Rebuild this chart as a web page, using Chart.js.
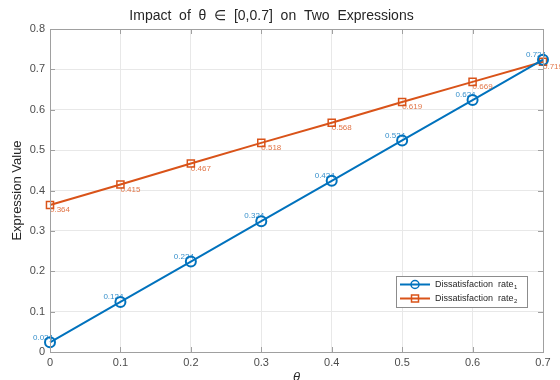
<!DOCTYPE html>
<html><head><meta charset="utf-8">
<script src="https://cdn.jsdelivr.net/npm/chart.js@4/dist/chart.umd.min.js"></script>
<style>html,body{margin:0;padding:0;background:#fff}#wrap{width:560px;height:380px}</style>
</head><body><div id="wrap"><canvas id="c" width="560" height="380"></canvas></div>
<script>
const thetas = [0, 0.1, 0.2, 0.3, 0.4, 0.5, 0.6, 0.7];
const rate1 = [0.024, 0.124, 0.224, 0.324, 0.424, 0.524, 0.624, 0.724];
const rate2 = [0.364, 0.415, 0.467, 0.518, 0.568, 0.619, 0.669, 0.719];
const seriesNames = ['Dissatisfaction  rate', 'Dissatisfaction  rate'];
const seriesSubs = ['1', '2'];
const titleText = 'Impact  of  \u03B8  \u2208  [0,0.7]  on  Two  Expressions';
const xTitle = '\u03B8';
const yTitle = 'Expression Value';
const BLUE = '#0072BD', ORANGE = '#D95319';
const FONT = "'Liberation Sans', Arial, sans-serif";

const labelPlugin = {
  id: 'labels',
  afterDatasetsDraw(chart) {
    const ctx = chart.ctx;
    ctx.save();
    ctx.font = '8px ' + FONT;
    chart.data.datasets.forEach((ds, di) => {
      const meta = chart.getDatasetMeta(di);
      meta.data.forEach((pt, i) => {
        const txt = ds.data[i].y.toFixed(3);
        if (di === 0) {
          ctx.fillStyle = 'rgba(0,114,189,0.8)';
          ctx.textAlign = 'right'; ctx.textBaseline = 'bottom';
          ctx.fillText(txt, pt.x + 3, pt.y - 1);
        } else {
          ctx.fillStyle = 'rgba(217,83,25,0.8)';
          ctx.textAlign = 'left'; ctx.textBaseline = 'top';
          ctx.fillText(txt, pt.x, pt.y + 1);
        }
      });
    });
    ctx.restore();
  }
};

const framePlugin = {
  id: 'frame',
  afterDraw(chart) {
    const ctx = chart.ctx, a = chart.chartArea;
    const xs = chart.scales.x, ys = chart.scales.y;
    ctx.save();
    ctx.strokeStyle = '#a0a0a0'; ctx.lineWidth = 1;
    ctx.beginPath();
    xs.ticks.forEach(t => {
      const px = Math.round(xs.getPixelForValue(t.value)) + 0.5;
      ctx.moveTo(px, a.bottom); ctx.lineTo(px, a.bottom - 5);
      ctx.moveTo(px, a.top); ctx.lineTo(px, a.top + 5);
    });
    ys.ticks.forEach(t => {
      const py = Math.round(ys.getPixelForValue(t.value)) + 0.5;
      ctx.moveTo(a.left, py); ctx.lineTo(a.left + 5, py);
      ctx.moveTo(a.right, py); ctx.lineTo(a.right - 5, py);
    });
    ctx.stroke();
    ctx.strokeRect(Math.round(a.left) + 0.5, Math.round(a.top) + 0.5, Math.round(a.right - a.left), Math.round(a.bottom - a.top));
    // legend
    const lx = 396, ly = 276, lw = 131, lh = 31;
    ctx.fillStyle = '#fff';
    ctx.fillRect(lx, ly, lw, lh);
    ctx.strokeStyle = '#8c8c8c';
    ctx.strokeRect(lx + 0.5, ly + 0.5, lw, lh);
    const rows = [ly + 8.5, ly + 22.5];
    chart.data.datasets.forEach((ds, di) => {
      const y = rows[di];
      ctx.strokeStyle = ds.borderColor; ctx.lineWidth = 2;
      ctx.beginPath(); ctx.moveTo(lx + 4, y); ctx.lineTo(lx + 34, y); ctx.stroke();
      const mx = lx + 19;
      ctx.lineWidth = 1.5;
      if (di === 0) { ctx.beginPath(); ctx.arc(mx, y, 4, 0, Math.PI * 2); ctx.stroke(); }
      else { ctx.strokeRect(mx - 3.5, y - 3.5, 7, 7); }
      ctx.fillStyle = '#262626';
      ctx.font = '9px ' + FONT; ctx.textAlign = 'left'; ctx.textBaseline = 'middle';
      ctx.fillText(seriesNames[di], lx + 39, y);
      const w = ctx.measureText(seriesNames[di]).width;
      ctx.font = '6px ' + FONT;
      ctx.fillText(seriesSubs[di], lx + 39 + w + 0.5, y + 2.5);
    });
    ctx.restore();
  }
};

new Chart(document.getElementById('c'), {
  type: 'line',
  data: {
    datasets: [
      { label: seriesNames[0] + seriesSubs[0], data: thetas.map((t, i) => ({x: t, y: rate1[i]})),
        borderColor: BLUE, backgroundColor: 'rgba(0,0,0,0)', borderWidth: 2, pointStyle: 'circle',
        pointRadius: 5, pointBorderWidth: 2, pointBackgroundColor: 'rgba(0,0,0,0)', pointBorderColor: BLUE, clip: false, tension: 0 },
      { label: seriesNames[1] + seriesSubs[1], data: thetas.map((t, i) => ({x: t, y: rate2[i]})),
        borderColor: ORANGE, backgroundColor: 'rgba(0,0,0,0)', borderWidth: 2, pointStyle: 'rect',
        pointRadius: 5, pointBorderWidth: 1.5, pointBackgroundColor: 'rgba(0,0,0,0)', pointBorderColor: ORANGE, clip: false, tension: 0 }
    ]
  },
  options: {
    responsive: false, animation: false,
    layout: { padding: { left: 0, right: 17, top: 0, bottom: 0 } },
    plugins: {
      legend: { display: false },
      tooltip: { enabled: false },
      title: { display: true, text: titleText, color: '#262626',
        font: { family: FONT, size: 14, weight: 'normal' }, padding: { top: 8, bottom: 4.2 } }
    },
    scales: {
      x: { type: 'linear', min: 0, max: 0.7,
        afterFit(s) { s.height = 28; },
        ticks: { stepSize: 0.1, color: '#4d4d4d', font: { family: FONT, size: 11 }, padding: 4, maxRotation: 0 },
        grid: { color: '#e8e8e8', drawTicks: false },
        border: { color: '#a0a0a0' },
        title: { display: true, text: xTitle, color: '#262626', font: { family: FONT, size: 13, style: 'italic' }, padding: { top: 0, bottom: -5 } } },
      y: { min: 0, max: 0.8,
        afterFit(s) { s.width = 50; },
        ticks: { stepSize: 0.1, color: '#4d4d4d', font: { family: FONT, size: 11 }, padding: 5 },
        grid: { color: '#e8e8e8', drawTicks: false },
        border: { color: '#a0a0a0' },
        title: { display: true, text: yTitle, color: '#262626', font: { family: FONT, size: 13 }, padding: { top: 10, bottom: 0 } } }
    }
  },
  plugins: [labelPlugin, framePlugin]
});
</script></body></html>
